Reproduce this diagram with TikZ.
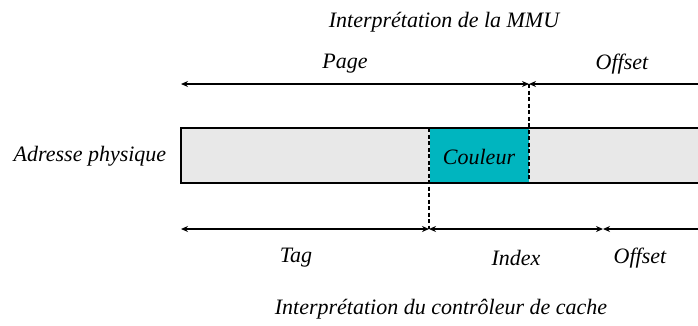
\documentclass[tikz,border=0pt]{standalone}
\usepackage{fontspec}
\setmainfont{Liberation Serif}
\usetikzlibrary{arrows.meta}
\definecolor{barfill}{HTML}{E8E8E8}
\definecolor{tealfill}{HTML}{00B5BF}
\begin{document}
\begin{tikzpicture}[x=1pt,y=-1pt,
  lbl/.style={font=\fontsize{22}{25}\selectfont\itshape, inner sep=0pt},
  dim/.style={line width=1.3pt, {Stealth[length=7pt,width=6pt]}-{Stealth[length=7pt,width=6pt]}},
  dimr/.style={line width=1.3pt, {Stealth[length=7pt,width=6pt]}-},
  guide/.style={line width=1.8pt, dash pattern=on 4pt off 2.5pt},
  barbox/.style={draw, line width=2pt, fill=barfill},
  colbox/.style={fill=tealfill}]
\useasboundingbox (0,0) rectangle (698,325);
\begin{scope}
\clip (0,0) rectangle (698,325);
% bar
\path[barbox] (181,128) rectangle (710,183);
\coordinate (barL) at (181,128);
\path[colbox] (429.5,129) rectangle (529,182);
\node[lbl] (couleur) at (479,157) {Couleur};
% guides
\coordinate (pTop) at (529,84);
\coordinate (pBot) at (529,183);
\coordinate (cTop) at (429,128);
\coordinate (cBot) at (429,229);
\draw[guide] (pTop) -- (pBot);
\draw[guide] (cTop) -- (cBot);
% top dims
\coordinate (tL) at (181,84);
\coordinate (tR) at (705,84);
\draw[dim] (tL) -- (pTop);
\draw[dimr] (pTop) -- (tR);
% bottom dims
\coordinate (bL) at (181,229);
\coordinate (bM) at (603,229);
\coordinate (bR) at (705,229);
\draw[dim] (bL) -- (cBot);
\draw[dim] (cBot) -- (bM);
\draw[dimr] (bM) -- (bR);
\end{scope}
% labels
\node[lbl] (mmu) at (444,22) {Interprétation de la MMU};
\node[lbl] (page) at (345,64) {Page};
\node[lbl] (offT) at (622,64) {Offset};
\node[lbl] (adr) at (90,156) {Adresse physique};
\node[lbl] (tag) at (296,258) {Tag};
\node[lbl] (idx) at (516,258) {Index};
\node[lbl] (offB) at (640,258) {Offset};
\node[lbl] (cache) at (441,309) {Interprétation du contrôleur de cache};
\end{tikzpicture}
\end{document}
